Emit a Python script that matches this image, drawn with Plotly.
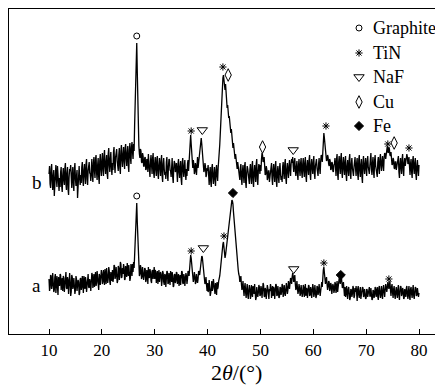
import numpy as np
import plotly.graph_objects as go

# Pattern a (lower trace), intensity (arbitrary units) every 0.1 deg from 10 to 80
pattern_a = [
    55, 43, 46, 59, 58, 45, 49, 61, 53, 42, 44, 57, 60, 41, 50, 58, 47, 39, 57, 48,
    48, 60, 59, 44, 51, 56, 43, 58, 56, 42, 50, 59, 62, 46, 45, 57, 54, 40, 49, 61,
    53, 38, 42, 59, 57, 45, 48, 56, 51, 40, 44, 58, 55, 43, 47, 54, 52, 39, 41, 55,
    56, 44, 47, 58, 50, 41, 58, 46, 45, 57, 53, 42, 48, 59, 60, 47, 46, 55, 52, 43,
    50, 61, 59, 46, 53, 60, 47, 55, 62, 48, 51, 63, 56, 45, 44, 60, 58, 49, 55, 64,
    61, 50, 52, 64, 58, 49, 65, 55, 50, 66, 60, 51, 55, 67, 63, 52, 49, 62, 59, 53,
    64, 52, 56, 69, 68, 55, 58, 67, 62, 51, 53, 68, 66, 54, 59, 72, 70, 56, 57, 66,
    60, 70, 67, 54, 55, 68, 64, 57, 71, 60, 58, 69, 63, 53, 56, 70, 66, 58, 70, 62,
    72, 66, 84, 96, 110, 126, 131, 112, 94, 78, 70, 58, 60, 69, 66, 55, 57, 67, 63, 54,
    58, 66, 65, 52, 54, 64, 61, 50, 67, 58, 56, 65, 62, 53, 51, 63, 64, 55, 59, 67,
    55, 64, 62, 51, 57, 63, 50, 59, 64, 52, 56, 62, 60, 48, 53, 63, 61, 52, 49, 60,
    59, 47, 54, 63, 62, 50, 51, 61, 57, 49, 63, 54, 52, 62, 58, 47, 48, 59, 60, 51,
    53, 62, 61, 50, 55, 60, 48, 57, 59, 49, 54, 63, 62, 51, 50, 60, 57, 48, 53, 61,
    58, 50, 55, 63, 62, 58, 68, 74, 79, 76, 70, 63, 61, 52, 55, 62, 58, 50, 52, 60,
    57, 51, 55, 63, 61, 59, 66, 71, 74, 78, 77, 70, 65, 58, 56, 50, 52, 57, 49, 43,
    51, 42, 44, 54, 49, 38, 41, 52, 53, 43, 46, 55, 50, 41, 40, 51, 48, 39, 52, 45,
    47, 53, 55, 58, 63, 70, 74, 82, 86, 90, 92, 86, 81, 76, 79, 84, 87, 92, 97, 101,
    106, 113, 118, 124, 128, 132, 134, 133, 130, 122, 115, 105, 98, 90, 84, 76, 72, 67, 64, 60,
    58, 52, 54, 58, 50, 44, 47, 53, 44, 38, 47, 51, 41, 36, 45, 50, 39, 35, 44, 49,
    46, 35, 38, 49, 43, 37, 48, 40, 40, 50, 45, 34, 36, 47, 44, 37, 41, 49, 47, 38,
    39, 48, 45, 36, 42, 51, 49, 38, 37, 46, 44, 35, 40, 49, 46, 37, 35, 45, 43, 50,
    47, 36, 41, 48, 38, 47, 45, 35, 43, 50, 49, 38, 39, 48, 44, 36, 37, 47, 46, 39,
    42, 50, 48, 37, 40, 49, 45, 38, 43, 51, 47, 40, 44, 53, 50, 45, 49, 56, 54, 50,
    57, 61, 58, 52, 55, 59, 50, 44, 46, 53, 49, 40, 43, 50, 46, 38, 41, 49, 45, 37,
    40, 49, 47, 37, 42, 50, 38, 46, 45, 36, 41, 49, 48, 38, 39, 47, 44, 36, 42, 50,
    46, 37, 40, 49, 44, 36, 38, 48, 47, 39, 42, 50, 45, 38, 43, 51, 52, 47, 60, 64,
    67, 61, 58, 50, 54, 57, 50, 44, 47, 53, 52, 43, 45, 51, 49, 40, 43, 50, 48, 41,
    44, 52, 50, 41, 46, 53, 42, 49, 51, 56, 54, 50, 55, 58, 52, 46, 48, 52, 45, 38,
    47, 37, 42, 48, 39, 35, 45, 47, 41, 34, 36, 45, 44, 37, 40, 48, 46, 36, 38, 46,
    42, 48, 37, 33, 45, 48, 39, 36, 43, 47, 35, 41, 41, 47, 46, 37, 38, 45, 42, 35,
    36, 45, 44, 37, 40, 47, 47, 38, 38, 46, 42, 34, 35, 44, 43, 36, 39, 47, 45, 37,
    41, 47, 37, 34, 46, 48, 40, 36, 43, 48, 38, 35, 45, 49, 42, 37, 44, 50, 47, 42,
    46, 52, 50, 45, 48, 53, 44, 38, 47, 50, 41, 36, 45, 48, 39, 35, 43, 47, 40, 36,
    45, 49, 38, 34, 43, 48, 47, 38, 40, 46, 44, 35, 36, 45, 42, 37, 46, 48, 39, 35,
    43, 48, 37, 34, 45, 47, 40, 36, 44, 49, 38, 35, 42, 47, 46, 38, 39, 46, 43, 37,
    41,
]

# Pattern b (upper trace, stacked above a), same 2theta grid
pattern_b = [
    160, 168, 150, 146, 165, 170, 153, 144, 158, 164, 138, 152, 163, 169, 155, 147, 168, 159, 151, 143,
    156, 147, 162, 167, 148, 142, 159, 166, 154, 149, 166, 171, 150, 144, 161, 167, 145, 139, 157, 165,
    163, 169, 152, 146, 160, 167, 149, 143, 165, 171, 155, 148, 158, 164, 136, 150, 162, 168, 156, 149,
    159, 151, 167, 172, 154, 148, 164, 170, 158, 150, 170, 175, 155, 149, 163, 171, 172, 161, 160, 153,
    168, 175, 158, 152, 171, 177, 163, 156, 175, 179, 161, 154, 169, 176, 157, 150, 173, 180, 165, 158,
    174, 181, 164, 158, 178, 184, 167, 160, 172, 179, 160, 155, 180, 186, 169, 162, 175, 182, 166, 159,
    171, 164, 182, 187, 168, 161, 177, 184, 185, 173, 170, 163, 179, 186, 166, 160, 183, 189, 174, 167,
    180, 187, 172, 165, 186, 190, 175, 168, 181, 188, 168, 162, 184, 191, 177, 170, 187, 192, 182, 175,
    190, 183, 210, 232, 255, 280, 291, 262, 230, 205, 188, 180, 176, 185, 183, 172, 171, 181, 178, 168,
    168, 176, 177, 164, 165, 175, 174, 162, 180, 171, 163, 157, 173, 179, 169, 160, 176, 181, 161, 156,
    171, 177, 164, 158, 175, 178, 160, 155, 169, 176, 166, 158, 173, 179, 158, 152, 170, 176, 165, 159,
    162, 155, 172, 177, 159, 153, 168, 175, 174, 164, 163, 157, 170, 176, 157, 151, 166, 173, 171, 162,
    164, 171, 158, 152, 170, 175, 162, 156, 167, 173, 155, 149, 171, 176, 163, 157, 168, 174, 160, 154,
    165, 158, 170, 174, 163, 170, 181, 192, 199, 190, 178, 168, 166, 174, 170, 160, 162, 171, 168, 159,
    172, 177, 166, 170, 177, 181, 185, 191, 196, 190, 182, 175, 171, 162, 164, 171, 168, 157, 159, 166,
    163, 169, 155, 149, 161, 167, 152, 147, 166, 170, 157, 150, 160, 167, 154, 148, 164, 169, 158, 153,
    166, 172, 180, 189, 200, 214, 228, 242, 250, 256, 259, 252, 248, 244, 250, 241, 236, 226, 229, 220,
    216, 218, 212, 204, 201, 205, 197, 190, 186, 191, 184, 178, 175, 180, 174, 166, 165, 172, 168, 160,
    160, 154, 166, 170, 155, 149, 163, 169, 158, 151, 168, 172, 152, 146, 161, 168, 165, 157, 156, 150,
    164, 170, 157, 150, 168, 173, 153, 147, 162, 169, 159, 152, 170, 175, 155, 149, 163, 170, 167, 160,
    169, 163, 175, 181, 179, 172, 173, 177, 166, 159, 160, 168, 165, 154, 156, 163, 163, 152, 158, 166,
    166, 171, 155, 149, 164, 170, 159, 152, 168, 173, 153, 147, 162, 168, 157, 151, 165, 171, 160, 154,
    158, 152, 167, 172, 161, 155, 170, 175, 156, 150, 165, 171, 162, 156, 168, 174, 164, 158, 170, 175,
    171, 177, 168, 162, 172, 176, 163, 158, 167, 173, 160, 154, 169, 175, 164, 158, 171, 176, 162, 156,
    170, 176, 163, 157, 172, 177, 158, 152, 168, 174, 165, 159, 174, 179, 160, 154, 169, 175, 166, 160,
    172, 178, 161, 155, 168, 174, 175, 166, 163, 158, 170, 176, 166, 160, 173, 179, 178, 172, 186, 193,
    201, 196, 189, 182, 180, 173, 174, 179, 177, 170, 168, 175, 173, 164, 165, 172, 171, 163, 162, 169,
    170, 176, 164, 158, 175, 180, 160, 154, 172, 178, 167, 160, 176, 181, 162, 156, 171, 177, 165, 159,
    173, 178, 159, 153, 168, 174, 164, 158, 175, 180, 161, 155, 170, 176, 166, 160, 158, 167, 172, 177,
    165, 158, 171, 176, 160, 154, 174, 179, 163, 157, 169, 175, 157, 151, 172, 178, 166, 160, 170, 176,
    164, 158, 173, 178, 167, 161, 160, 168, 176, 181, 165, 159, 171, 177, 162, 156, 174, 179, 168, 162,
    163, 157, 172, 177, 166, 160, 175, 180, 169, 163, 173, 178, 168, 163, 176, 181, 180, 175, 183, 187,
    188, 182, 181, 187, 185, 179, 178, 182, 175, 169, 170, 176, 174, 166, 165, 172, 172, 164, 167, 174,
    173, 178, 162, 156, 170, 176, 166, 160, 175, 180, 164, 158, 171, 176, 168, 172, 174, 180, 177, 170,
    172, 177, 165, 159, 170, 175, 162, 156, 173, 178, 166, 160, 171, 176, 160, 154, 168, 174, 164, 158,
    169,
]

two_theta = np.round(10.0 + 0.1 * np.arange(len(pattern_a)), 1)

# Phase markers: (2theta, height) for each phase, patterns b then a
graphite_x = [26.6, 26.6]
graphite_y = [298, 138]
tin_x = [36.9, 42.9, 62.4, 74.1, 78.1, 36.9, 43.1, 62.0, 74.3]
tin_y = [203, 267, 208, 190, 186, 83, 98, 71, 55]
naf_x = [39.0, 56.2, 39.2, 56.3]
naf_y = [204, 184, 86, 65]
cu_x = [43.9, 50.4, 75.3]
cu_y = [259, 187, 191]
fe_x = [44.8, 65.2]
fe_y = [141, 59]

legend_names = ["Graphite", "TiN", "NaF", "Cu", "Fe"]
legend_key_y = [306, 281, 257, 232, 208]

serif = "Liberation Serif, Times New Roman, serif"

fig = go.Figure()
fig.add_trace(go.Scatter(x=two_theta, y=pattern_a, mode="lines",
                         line=dict(color="black", width=1.3), showlegend=False,
                         hoverinfo="skip"))
fig.add_trace(go.Scatter(x=two_theta, y=pattern_b, mode="lines",
                         line=dict(color="black", width=1.3), showlegend=False,
                         hoverinfo="skip"))

symbols = [("circle-open", 6), ("asterisk-open", 6), ("triangle-down-open", 9),
           ("diamond-tall-open", 9), ("diamond", 7)]
phase_x = [graphite_x, tin_x, naf_x, cu_x, fe_x]
phase_y = [graphite_y, tin_y, naf_y, cu_y, fe_y]

for (sym, size), xs, ys, nm, ky in zip(symbols, phase_x, phase_y, legend_names, legend_key_y):
    mk = dict(symbol=sym, size=size, color="black", line=dict(color="black", width=1))
    fig.add_trace(go.Scatter(x=xs, y=ys, mode="markers", marker=mk, name=nm,
                             showlegend=False, hoverinfo="skip"))
    # legend key
    fig.add_trace(go.Scatter(x=[68.65], y=[ky], mode="markers", marker=mk,
                             showlegend=False, hoverinfo="skip"))

annotations = []
for nm, ky in zip(legend_names, legend_key_y):
    annotations.append(dict(x=70.9, y=ky, xref="x", yref="y", text=nm, showarrow=False,
                            xanchor="left", font=dict(family=serif, size=18, color="black")))
annotations += [
    dict(x=7.7, y=49, xref="x", yref="y", text="a", showarrow=False,
         font=dict(family=serif, size=19, color="black")),
    dict(x=7.7, y=152, xref="x", yref="y", text="b", showarrow=False,
         font=dict(family=serif, size=19, color="black")),
    dict(x=45.5, y=-0.117, xref="x", yref="paper", text="2<i>θ</i>/(°)",
         showarrow=False, yanchor="middle",
         font=dict(family=serif, size=22, color="black")),
]

# The page body adds an 8 px offset, so the figure is sized to end at the window edge
fig.update_layout(
    width=435, height=378,
    margin=dict(l=1, r=0, t=1, b=52),
    paper_bgcolor="white", plot_bgcolor="white",
    showlegend=False,
    annotations=annotations,
    xaxis=dict(range=[2.43, 84.54], showline=True, linecolor="black", linewidth=1.2,
               mirror=True, ticks="inside", ticklen=5, tickwidth=1.2, tickcolor="black",
               tickvals=[10, 20, 30, 40, 50, 60, 70, 80],
               tickfont=dict(family=serif, size=17, color="black"),
               showgrid=False, zeroline=False),
    yaxis=dict(range=[0, 325], showline=True, linecolor="black", linewidth=1.2,
               showticklabels=False, ticks="", showgrid=False, zeroline=False),
)

fig.write_html("out.html")
